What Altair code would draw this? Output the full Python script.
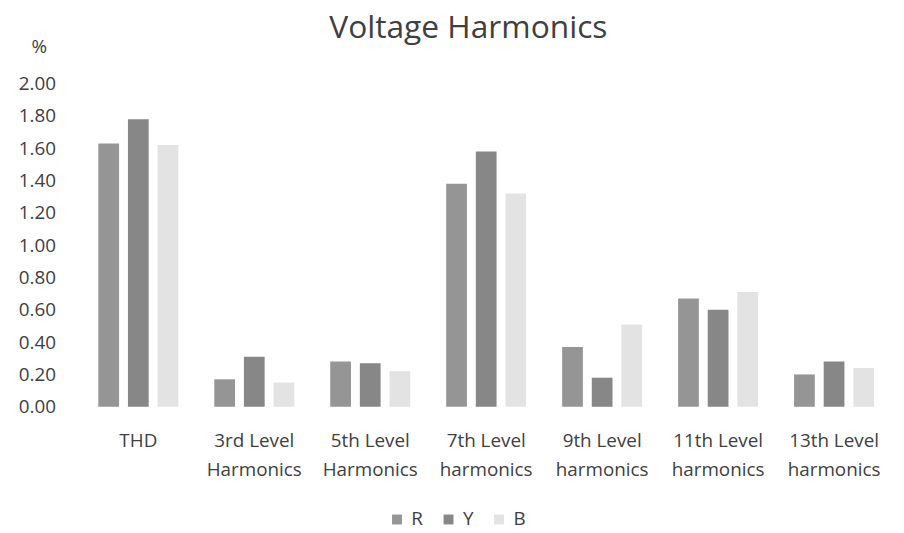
import altair as alt
import pandas as pd

categories = ["THD", "3rd Level|Harmonics", "5th Level|Harmonics", "7th Level|harmonics",
              "9th Level|harmonics", "11th Level|harmonics", "13th Level|harmonics"]
series = ["R", "Y", "B"]
r_values = [1.63, 0.17, 0.28, 1.38, 0.37, 0.67, 0.20]
y_values = [1.78, 0.31, 0.27, 1.58, 0.18, 0.60, 0.28]
b_values = [1.62, 0.15, 0.22, 1.32, 0.51, 0.71, 0.24]
y_ticks = [0.0, 0.2, 0.4, 0.6, 0.8, 1.0, 1.2, 1.4, 1.6, 1.8, 2.0]

rows = []
for name, vals in zip(series, [r_values, y_values, b_values]):
    for c, v in zip(categories, vals):
        rows.append({"category": c, "series": name, "value": v})
df = pd.DataFrame(rows)

font = "Open Sans"
text_color = "#404040"

chart = alt.Chart(df).mark_bar().encode(
    x=alt.X("category:N", sort=categories,
            scale=alt.Scale(paddingInner=0.31, paddingOuter=0.155),
            axis=alt.Axis(title=None, labelAngle=0, domain=False, ticks=False,
                          labelExpr="split(datum.label, '|')", labelPadding=25,
                          labelFontSize=19, labelFont=font, labelColor=text_color,
                          labelLineHeight=29, labelBaseline="top")),
    xOffset=alt.XOffset("series:N", sort=series, scale=alt.Scale(paddingInner=0.3)),
    y=alt.Y("value:Q", scale=alt.Scale(domain=[0, 2]),
            axis=alt.Axis(title="%", titleAngle=0, titleX=-42, titleY=-37,
                          titleAlign="center", titleBaseline="middle",
                          titleFontWeight="normal", titleFontSize=19, titleFont=font,
                          titleColor=text_color,
                          values=y_ticks, format=".2f", domain=False, ticks=False,
                          grid=False, labelPadding=25, labelFontSize=19,
                          labelFont=font, labelColor=text_color)),
    color=alt.Color("series:N", sort=series,
                    scale=alt.Scale(domain=series, range=["#959595", "#878787", "#e3e3e3"]),
                    legend=alt.Legend(title=None, orient="none", direction="horizontal",
                                      legendX=310, legendY=430, symbolType="square",
                                      symbolSize=100, symbolStrokeWidth=0,
                                      labelFontSize=19, labelFont=font,
                                      labelColor=text_color, columnPadding=16,
                                      labelOffset=5)),
).properties(
    width=819, height=326,
    title=alt.TitleParams("Voltage Harmonics", fontSize=32, font=font,
                          fontWeight="normal", color=text_color, anchor="middle",
                          dx=-18, offset=-7),
    autosize=alt.AutoSizeParams(type="none"),
    padding={"left": 73, "top": 74, "right": 4, "bottom": 125},
).configure_view(stroke=None)

chart.save("out.html", embed_options={"renderer": "svg", "actions": False})
